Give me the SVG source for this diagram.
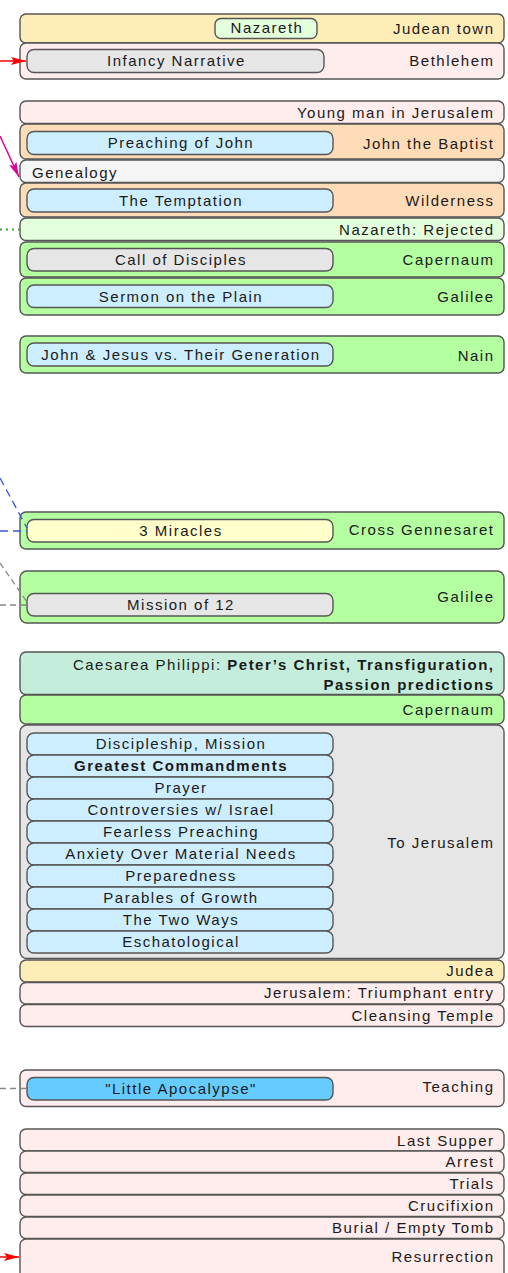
<svg xmlns="http://www.w3.org/2000/svg" width="508" height="1273" viewBox="0 0 508 1273">
<defs>
<style>
text{font-family:"Liberation Sans",Arial,sans-serif;font-size:15px;fill:#1a1a1a;letter-spacing:1.5px}
.r{text-anchor:end}
.m{text-anchor:middle}
.b{font-weight:bold}
.o{stroke:#555;stroke-width:1.4}
.i{stroke:#555;stroke-width:1.4}
.pink{fill:#ffecec}.yel{fill:#ffedb8}.peach{fill:#ffdcb8}.grn{fill:#b4ff9f}.lgrn{fill:#e4ffdc}
.gray{fill:#e6e6e6}.blue{fill:#cdeeff}.wht{fill:#f5f5f5}.mint{fill:#c4eedb}.cream{fill:#ffffcc}.sky{fill:#66ccff}
</style>
<marker id="ar" markerUnits="userSpaceOnUse" markerWidth="16" markerHeight="10" refX="15" refY="5" orient="auto"><path d="M0,1 L15,5 L0,9 L3,5 Z" fill="#ff0000"/></marker>
<marker id="am" markerUnits="userSpaceOnUse" markerWidth="16" markerHeight="10" refX="15" refY="5" orient="auto"><path d="M0,1 L15,5 L0,9 L3,5 Z" fill="#dd0099"/></marker>
</defs>

<g id="judean-town"><rect class="o yel" x="20" y="14" width="484" height="29" rx="6"/><text class="r" x="494.5" y="33.5">Judean town</text>
<g id="nazareth"><rect class="i lgrn" x="215" y="18.5" width="102" height="20" rx="6"/><text class="m" x="267" y="33">Nazareth</text></g></g>
<g id="bethlehem"><rect class="o pink" x="20" y="43" width="484" height="36" rx="6"/><text class="r" x="494.5" y="66">Bethlehem</text>
<g id="infancy"><rect class="i gray" x="27" y="49.5" width="297" height="23" rx="7"/><text class="m" x="176.5" y="66">Infancy Narrative</text></g></g>

<g id="young-man"><rect class="o pink" x="20" y="101" width="484" height="22.5" rx="6"/><text class="r" x="494.5" y="118">Young man in Jerusalem</text></g>
<g id="john-baptist"><rect class="o peach" x="20" y="124" width="484" height="35" rx="6"/><text class="r" x="494.5" y="148.5">John the Baptist</text>
<g id="preaching"><rect class="i blue" x="27" y="131.5" width="306" height="23" rx="7"/><text class="m" x="181" y="148">Preaching of John</text></g></g>
<g id="genealogy"><rect class="o wht" x="20" y="160" width="484" height="22.5" rx="6"/><text x="32" y="177.5">Genealogy</text></g>
<g id="wilderness"><rect class="o peach" x="20" y="183" width="484" height="34" rx="6"/><text class="r" x="494.5" y="206">Wilderness</text>
<g id="temptation"><rect class="i blue" x="27" y="189" width="306" height="23" rx="7"/><text class="m" x="181" y="205.5">The Temptation</text></g></g>
<g id="nazareth-rejected"><rect class="o lgrn" x="20" y="218" width="484" height="22.5" rx="6"/><text class="r" x="494.5" y="234.5">Nazareth: Rejected</text></g>
<g id="capernaum"><rect class="o grn" x="20" y="242" width="484" height="35" rx="6"/><text class="r" x="494.5" y="265">Capernaum</text>
<g id="call"><rect class="i gray" x="27" y="248.5" width="306" height="22.5" rx="7"/><text class="m" x="181" y="265">Call of Disciples</text></g></g>
<g id="galilee"><rect class="o grn" x="20" y="278" width="484" height="37" rx="6"/><text class="r" x="494.5" y="301.5">Galilee</text>
<g id="sermon"><rect class="i blue" x="27" y="285" width="306" height="22.5" rx="7"/><text class="m" x="181" y="301.5">Sermon on the Plain</text></g></g>

<g id="nain"><rect class="o grn" x="20" y="336" width="484" height="37" rx="6"/><text class="r" x="494.5" y="361">Nain</text>
<g id="generation"><rect class="i blue" x="27" y="343" width="306" height="23" rx="7"/><text class="m" x="181" y="359.5">John &amp; Jesus vs. Their Generation</text></g></g>

<g id="cross-gennesaret"><rect class="o grn" x="20" y="512" width="484" height="37" rx="6"/><text class="r" x="494.5" y="535">Cross Gennesaret</text>
<g id="miracles"><rect class="i cream" x="27" y="519.5" width="306" height="22.5" rx="7"/><text class="m" x="181" y="536">3 Miracles</text></g></g>
<g id="galilee-2"><rect class="o grn" x="20" y="571" width="484" height="52" rx="7"/><text class="r" x="494.5" y="601.5">Galilee</text>
<g id="mission"><rect class="i gray" x="27" y="593.5" width="306" height="22.5" rx="7"/><text class="m" x="181" y="610">Mission of 12</text></g></g>

<g id="caesarea"><rect class="o mint" x="20" y="652" width="484" height="42.5" rx="6"/>
<text class="r" x="494.5" y="670">Caesarea Philippi: <tspan class="b">Peter’s Christ, Transfiguration,</tspan></text>
<text class="r b" x="494.5" y="690">Passion predictions</text></g>
<g id="capernaum-2"><rect class="o grn" x="20" y="695" width="484" height="29" rx="6"/><text class="r" x="494.5" y="715">Capernaum</text></g>
<g id="to-jerusalem"><rect class="o gray" x="20" y="725" width="484" height="233.5" rx="7"/><text class="r" x="494.5" y="848">To Jerusalem</text>
<g id="discipleship"><rect class="i blue" x="27" y="733" width="306" height="22" rx="7"/><text class="m" x="181" y="749">Discipleship, Mission</text></g>
<g id="greatest"><rect class="i blue" x="27" y="755" width="306" height="22" rx="7"/><text class="m b" x="181" y="771">Greatest Commandments</text></g>
<g id="prayer"><rect class="i blue" x="27" y="777" width="306" height="22" rx="7"/><text class="m" x="181" y="793">Prayer</text></g>
<g id="controversies"><rect class="i blue" x="27" y="799" width="306" height="22" rx="7"/><text class="m" x="181" y="815">Controversies w/ Israel</text></g>
<g id="fearless"><rect class="i blue" x="27" y="821" width="306" height="22" rx="7"/><text class="m" x="181" y="837">Fearless Preaching</text></g>
<g id="anxiety"><rect class="i blue" x="27" y="843" width="306" height="22" rx="7"/><text class="m" x="181" y="859">Anxiety Over Material Needs</text></g>
<g id="preparedness"><rect class="i blue" x="27" y="865" width="306" height="22" rx="7"/><text class="m" x="181" y="881">Preparedness</text></g>
<g id="parables"><rect class="i blue" x="27" y="887" width="306" height="22" rx="7"/><text class="m" x="181" y="903">Parables of Growth</text></g>
<g id="two-ways"><rect class="i blue" x="27" y="909" width="306" height="22" rx="7"/><text class="m" x="181" y="925">The Two Ways</text></g>
<g id="eschatological"><rect class="i blue" x="27" y="931" width="306" height="22" rx="7"/><text class="m" x="181" y="947">Eschatological</text></g></g>
<g id="judea"><rect class="o yel" x="20" y="960" width="484" height="22" rx="6"/><text class="r" x="494.5" y="975.5">Judea</text></g>
<g id="triumphant"><rect class="o pink" x="20" y="982.5" width="484" height="21.5" rx="6"/><text class="r" x="494.5" y="997.5">Jerusalem: Triumphant entry</text></g>
<g id="cleansing"><rect class="o pink" x="20" y="1004.5" width="484" height="22" rx="6"/><text class="r" x="494.5" y="1020.5">Cleansing Temple</text></g>

<g id="teaching"><rect class="o pink" x="20" y="1070" width="484" height="36.5" rx="6"/><text class="r" x="494.5" y="1092">Teaching</text>
<g id="little-apocalypse"><rect class="i sky" x="27" y="1077.5" width="306" height="22.5" rx="7"/><text class="m" x="181" y="1094">"Little Apocalypse"</text></g></g>

<g id="last-supper"><rect class="o pink" x="20" y="1129" width="484" height="22" rx="6"/><text class="r" x="494.5" y="1145.5">Last Supper</text></g>
<g id="arrest"><rect class="o pink" x="20" y="1151" width="484" height="21.5" rx="6"/><text class="r" x="494.5" y="1167">Arrest</text></g>
<g id="trials"><rect class="o pink" x="20" y="1173" width="484" height="21.5" rx="6"/><text class="r" x="494.5" y="1188.5">Trials</text></g>
<g id="crucifixion"><rect class="o pink" x="20" y="1195" width="484" height="21.5" rx="6"/><text class="r" x="494.5" y="1211">Crucifixion</text></g>
<g id="burial"><rect class="o pink" x="20" y="1217" width="484" height="21.5" rx="6"/><text class="r" x="494.5" y="1232.5">Burial / Empty Tomb</text></g>
<g id="resurrection"><rect class="o pink" x="20" y="1239" width="484" height="50" rx="6"/><text class="r" x="494.5" y="1261.5">Resurrection</text></g>

<g id="connectors" fill="none">
<line x1="0" y1="61" x2="26" y2="61" stroke="#ff0000" stroke-width="1.5" marker-end="url(#ar)"/>
<line x1="0" y1="136" x2="19" y2="177" stroke="#dd0099" stroke-width="1.5" marker-end="url(#am)"/>
<line x1="0" y1="229.5" x2="20" y2="229.5" stroke="#33aa33" stroke-width="2" stroke-dasharray="2,4"/>
<line x1="0" y1="478" x2="27" y2="528" stroke="#3355dd" stroke-width="1.3" stroke-dasharray="8,5"/>
<line x1="0" y1="531" x2="27" y2="531" stroke="#3355dd" stroke-width="1.3" stroke-dasharray="8,5"/>
<line x1="0" y1="563" x2="27" y2="602" stroke="#888" stroke-width="1.3" stroke-dasharray="6,4"/>
<line x1="0" y1="605" x2="27" y2="605" stroke="#888" stroke-width="1.3" stroke-dasharray="6,4"/>
<line x1="0" y1="1088.5" x2="27" y2="1088.5" stroke="#888" stroke-width="1.3" stroke-dasharray="6,4"/>
<line x1="0" y1="1257" x2="19" y2="1257" stroke="#ff0000" stroke-width="1.5" marker-end="url(#ar)"/>
</g>
</svg>
